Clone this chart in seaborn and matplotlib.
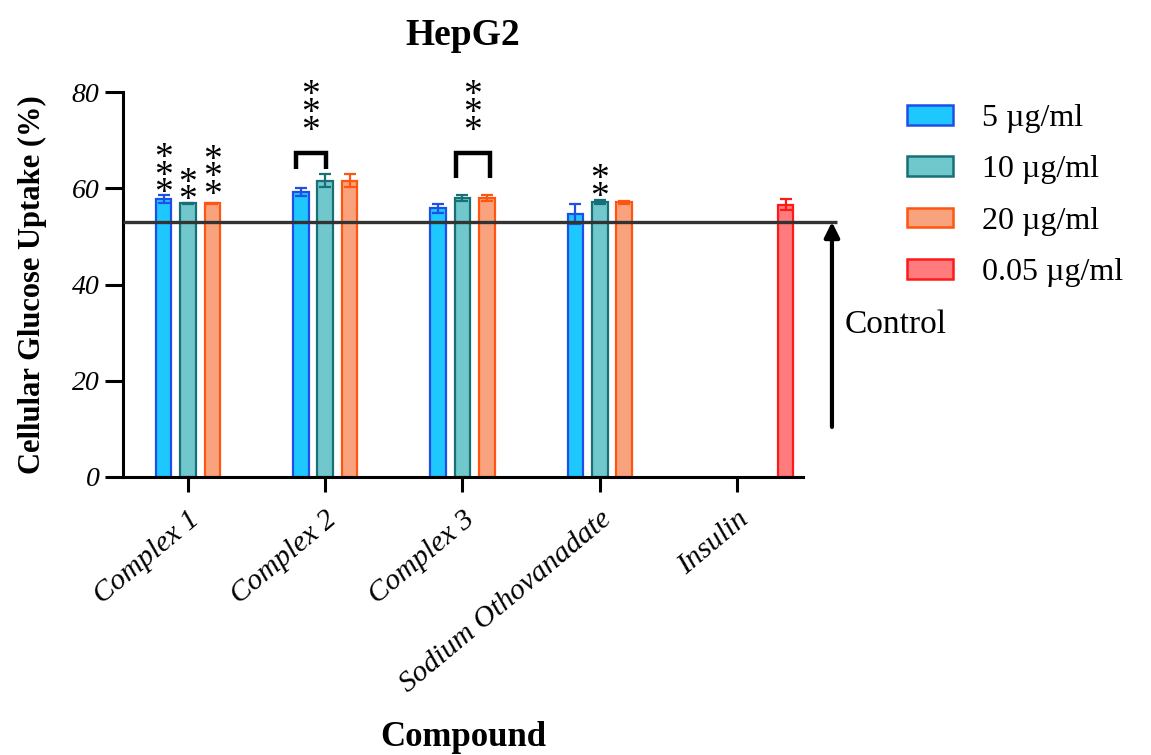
import matplotlib
matplotlib.use("Agg")
import matplotlib.pyplot as plt
from matplotlib.patches import Patch
from matplotlib.colors import to_rgba
from matplotlib.transforms import ScaledTranslation
import numpy as np
import pandas as pd
import seaborn as sns

# ---- data -------------------------------------------------------------
compounds = ["Complex 1", "Complex 2", "Complex 3", "Sodium Othovanadate", "Insulin"]
concentrations = ["5 µg/ml", "10 µg/ml", "20 µg/ml", "0.05 µg/ml"]

uptake_5 = [57.8, 59.2, 55.8, 54.6]
sem_5 = [0.9, 0.8, 0.9, 2.1]
uptake_10 = [56.9, 61.6, 58.0, 57.1]
sem_10 = [0.1, 1.4, 0.7, 0.4]
uptake_20 = [56.9, 61.6, 58.0, 57.1]
sem_20 = [0.1, 1.4, 0.7, 0.3]
uptake_insulin = [56.6]
sem_insulin = [1.2]

control_uptake = 53.0

# significance: (compound, concentration, label)
significance = [
    ("Complex 1", "5 µg/ml", "***"),
    ("Complex 1", "10 µg/ml", "**"),
    ("Complex 1", "20 µg/ml", "***"),
    ("Sodium Othovanadate", "10 µg/ml", "**"),
]
# bracket comparisons: (compound, label)
bracket_marks = [("Complex 2", "***"), ("Complex 3", "***")]

# ---- styling ----------------------------------------------------------
fills = ["#1EC8FF", "#70C7CC", "#F9A37E", "#FF7B7E"]
edges = ["#1F4FE8", "#186F76", "#FF5510", "#FF1A1A"]

sns.set_style("ticks")
plt.rcParams["font.family"] = ["Liberation Serif", "DejaVu Serif"]
for key in ("text.color", "axes.labelcolor", "xtick.color", "ytick.color", "axes.edgecolor"):
    plt.rcParams[key] = "black"

# ---- long-form table --------------------------------------------------
rows = []
series = [(uptake_5, sem_5), (uptake_10, sem_10), (uptake_20, sem_20)]
for h, (vals, errs) in enumerate(series):
    for g, (v, e) in enumerate(zip(vals, errs)):
        rows.append((compounds[g], concentrations[h], v, e))
for v, e in zip(uptake_insulin, sem_insulin):
    rows.append(("Insulin", concentrations[3], v, e))
df = pd.DataFrame(rows, columns=["compound", "concentration", "uptake", "sem"])

slot = 0.177  # spacing between neighbouring bars within a group
df["pos"] = [compounds.index(c) + (concentrations.index(h) - 1) * slot
             for c, h in zip(df["compound"], df["concentration"])]

# ---- figure -----------------------------------------------------------
fig = plt.figure(figsize=(11.51, 7.55), dpi=100)
ax = fig.add_axes([123 / 1151, 1 - 477 / 755, 680 / 1151, 385 / 755])

sns.barplot(data=df, x="pos", y="uptake", hue="concentration",
            hue_order=concentrations, palette=fills, native_scale=True,
            dodge=False, width=0.64, saturation=1, errorbar=None,
            legend=False, ax=ax, zorder=2)

fill_rgba = [to_rgba(c) for c in fills]
for p in ax.patches:
    fc = p.get_facecolor()
    k = int(np.argmin([np.sum((np.array(fc) - np.array(c)) ** 2) for c in fill_rgba]))
    p.set_edgecolor(edges[k])
    p.set_linewidth(1.6)

for h, conc in enumerate(concentrations):
    sub = df[df["concentration"] == conc]
    ax.errorbar(sub["pos"], sub["uptake"], yerr=sub["sem"], fmt="none",
                ecolor=edges[h], elinewidth=1.6, capsize=4, capthick=1.6,
                zorder=3)

x0, x1 = -0.4736, 4.481
ax.set_xlim(x0, x1)
ax.set_ylim(0, 80)
ax.set_yticks([0, 20, 40, 60, 80])
ax.set_xticks(range(len(compounds)))
ax.set_xticklabels(compounds, rotation=40, ha="right", va="top",
                   rotation_mode="anchor", fontsize=21.5, style="italic")
for lbl in ax.get_xticklabels():
    lbl.set_transform(lbl.get_transform() + ScaledTranslation(-4 / 72, 0, fig.dpi_scale_trans))
for lbl in ax.get_yticklabels():
    lbl.set_fontstyle("italic")
    lbl.set_fontsize(20)

sns.despine(ax=ax)
for s in ("left", "bottom"):
    ax.spines[s].set_linewidth(2.2)
ax.tick_params(axis="y", length=13, width=2.2, pad=4)
ax.tick_params(axis="x", length=11, width=2.2, pad=10)

ax.set_ylabel("Cellular Glucose Uptake (%)", fontsize=22, fontweight="bold")
ax.yaxis.set_label_coords(-0.112, 0.5)
ax.set_xlabel("Compound", fontsize=25, fontweight="bold")
ax.xaxis.set_label_coords(0.5, -0.635)
ax.set_title("HepG2", fontsize=27, fontweight="bold", pad=34)

# control reference line and arrow
x_ctrl_end = 4.73
ax.plot([x0, x_ctrl_end], [control_uptake, control_uptake], color="#333333",
        lw=2.4, clip_on=False, zorder=4, solid_capstyle="butt")
x_arrow = 4.692
ax.annotate("", xy=(x_arrow, control_uptake), xytext=(x_arrow, 10.4),
            arrowprops=dict(arrowstyle="-|>,head_length=0.9,head_width=0.45",
                            lw=3, color="black", shrinkA=0, shrinkB=0),
            annotation_clip=False)
ax.text(4.787, 31.6, "Control", fontsize=24, ha="left", va="center")

# significance stars (one stacked text per mark)
star_fs = 27


def stars(x, y_low, n):
    ax.annotate("\n".join(["*"] * n), xy=(x, y_low),
                xytext=(0, -0.75 * star_fs), textcoords="offset points",
                ha="center", va="bottom", fontsize=star_fs, linespacing=0.36,
                annotation_clip=False)


star_base = {("Complex 1", "5 µg/ml"): 61.1, ("Complex 1", "10 µg/ml"): 59.6,
             ("Complex 1", "20 µg/ml"): 60.7,
             ("Sodium Othovanadate", "10 µg/ml"): 60.3}
for comp, conc, lab in significance:
    x = compounds.index(comp) + (concentrations.index(conc) - 1) * slot
    stars(x, star_base[(comp, conc)], len(lab))

bracket_geom = {"Complex 2": (-0.213, 0.003, 64.0), "Complex 3": (-0.047, 0.200, 62.1)}
for comp, lab in bracket_marks:
    g = compounds.index(comp)
    dl, dr, bot = bracket_geom[comp]
    top = 67.4
    ax.plot([g + dl, g + dl, g + dr, g + dr], [bot, top, top, bot], color="black",
            lw=3.2, solid_joinstyle="miter", solid_capstyle="butt",
            clip_on=False, zorder=4)
    stars(g + (dl + dr) / 2, 74.1, len(lab))

# legend
handles = [Patch(facecolor=f, edgecolor=e, linewidth=1.8) for f, e in zip(fills, edges)]
fig.legend(handles, concentrations, loc="upper left",
           bbox_to_anchor=(907 / 1151, 1 - 104 / 755), frameon=False,
           fontsize=23, handlelength=1.45, handleheight=0.58,
           handletextpad=0.9, labelspacing=0.7, borderpad=0, borderaxespad=0)

fig.savefig("out.png", dpi=100)
